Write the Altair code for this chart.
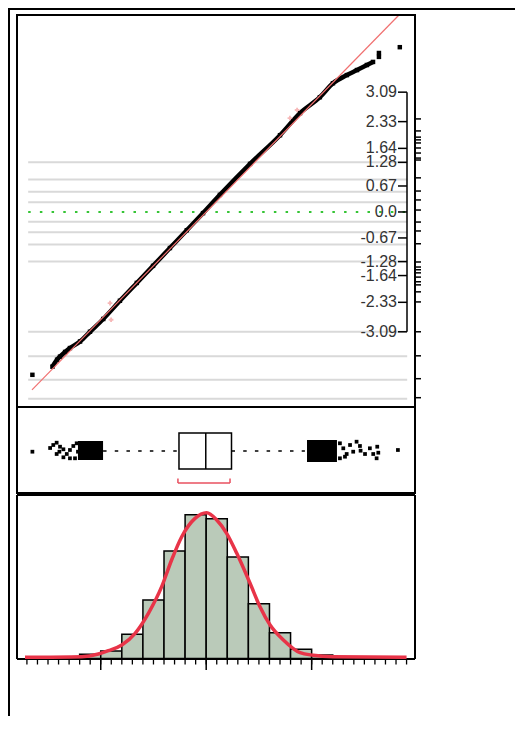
import altair as alt
import pandas as pd

# ---------------- data ----------------
# shared value axis (no tick labels in the reference)
x_domain = [-8.97, 9.90]

# normal quantile plot: sorted values and their normal quantiles
nq_value = [-8.24, -7.29, -7.07, -6.93, -6.69, -6.46, -5.98, -5.51, -4.88, -4.09,
            -3.29, -2.52, -1.72, -0.92, -0.15, 0.65, 2.08, 3.50, 4.45, 5.39,
            6.01, 6.67, 7.15, 7.62, 7.91, 8.19, 8.19, 9.18]
nq_quant = [-4.20, -3.99, -3.81, -3.73, -3.61, -3.51, -3.34, -3.09, -2.76, -2.29,
            -1.83, -1.39, -0.93, -0.47, -0.03, 0.44, 1.24, 1.98, 2.55, 2.96,
            3.32, 3.53, 3.66, 3.79, 3.87, 4.00, 4.10, 4.25]
fit_value = [-8.26, 9.14]
fit_quant = [-4.59, 5.08]
cross_value = [-4.56, -4.51, 3.97, 4.31]
cross_quant = [-2.35, -2.78, 2.42, 2.63]
grid_quant = [1.28, 0.84, 0.52, 0.25, -0.25, -0.52, -0.84, -1.28, -3.09, -3.72, -4.33, -4.82]
quant_tick_values = [3.09, 2.33, 1.64, 1.28, 0.67, 0.0, -0.67, -1.28, -1.64, -2.33, -3.09]
quant_tick_labels = ["3.09", "2.33", "1.64", "1.28", "0.67", "0.0", "-0.67", "-1.28", "-1.64", "-2.33", "-3.09"]
prob_ticks = [2.40, 2.09, 1.93, 1.86, 1.78, 1.65, 1.52, 1.39, 1.34, 0.88, 0.54, 0.31, 0.05,
              -0.26, -0.49, -0.82, -1.29, -1.42, -1.49, -1.57, -1.68, -1.80, -1.88, -2.06,
              -2.32, -3.09, -3.71, -4.30, -4.79]

# outlier box plot
box_q1, box_median, box_q3 = -1.29, -0.02, 1.20
whisker_lo, whisker_hi = -4.89, 4.68
shortest_half = [-1.34, 1.13]
out_value = [-8.24, 9.09,
             -7.40, -7.25, -7.09, -6.93, -6.77, -6.96, -7.09, -6.77, -6.61, -6.46, -6.30, -6.14, -6.22, -6.46, -6.08,
             6.34, 6.50, 6.66, 6.82, 6.97, 7.13, 7.29, 7.32, 7.53, 7.76, 7.92, 8.11, 8.16, 8.08, 6.34, 6.58]
out_jitter = [0.7, -1,
              -3, -6, -8.3, -4.3, -1.7, 0.7, 3, 6.3, 3, -1, -5, -7.7, 7.3, 7.3, 0.7,
              -7.7, -2.7, 3, -6, 0.7, -9.3, -5, -0.3, 3, -2.7, 3, -4.3, 1.7, 7.3, 7.3, 5.7]
dense_lo = [-6.08, 4.78]
dense_hi = [-4.89, 6.20]
dense_j0 = [-10, -11]
dense_j1 = [9, 11]

# histogram (density per unit bin)
bin_lo = [-6, -5, -4, -3, -2, -1, 0, 1, 2, 3, 4, 5]
bin_hi = [-5, -4, -3, -2, -1, 0, 1, 2, 3, 4, 5, 6]
bin_density = [0.0064, 0.0114, 0.0367, 0.0888, 0.163, 0.218, 0.212, 0.154, 0.083, 0.039, 0.014, 0.0053]
curve_x = [-8.59, -5.90, -5.11, -4.64, -4.00, -3.37, -2.74, -2.11, -1.64, -1.16, -0.53, 0.02,
           0.50, 0.97, 1.45, 2.08, 2.55, 3.03, 3.66, 4.45, 5.08, 6.02, 9.50]
curve_y = [0.0018, 0.0027, 0.0068, 0.0118, 0.0205, 0.0382, 0.0686, 0.1090, 0.1495, 0.1848, 0.2127, 0.2212,
           0.2102, 0.1900, 0.1596, 0.1141, 0.0786, 0.0508, 0.0281, 0.0088, 0.0049, 0.0027, 0.0018]
minor_ticks = [-8.5, -8.0, -7.5, -7.0, -6.5, -6.0, -5.5, -5.0, -4.5, -4.0, -3.5, -3.0, -2.5, -2.0,
               -1.5, -1.0, -0.5, 0.0, 0.5, 1.0, 1.5, 2.0, 2.5, 3.0, 3.5, 4.0, 4.5, 5.0, 5.5, 6.0,
               6.5, 7.0, 7.5, 8.0, 8.5, 9.0, 9.5]
major_ticks = [-5, 0, 5]

# ---------------- scales ----------------
xs = alt.Scale(domain=x_domain, range=[9, 407], nice=False, zero=False)
qs = alt.Scale(domain=[-5.03, 5.08], range=[399, 7], nice=False, zero=False)
bs = alt.Scale(domain=[-44, 43], range=[399, 486], nice=False, zero=False)
hs = alt.Scale(domain=[0, 0.2481], range=[650.5, 487], nice=False, zero=False)

def X(f):
    return alt.X(f, type="quantitative", scale=xs, axis=None)

def Yq(f):
    return alt.Y(f, type="quantitative", scale=qs, axis=None)

def Yb(f):
    return alt.Y(f, type="quantitative", scale=bs, axis=None)

def Yh(f):
    return alt.Y(f, type="quantitative", scale=hs, axis=None)

one = pd.DataFrame({"a": [0]})
layers = []

# ---- quantile panel ----
grid_df = pd.DataFrame({"q": grid_quant, "x": [-8.44] * len(grid_quant), "x2": [9.53] * len(grid_quant)})
layers.append(alt.Chart(grid_df).mark_rule(color="#d9d9d9", strokeWidth=2).encode(
    x=X("x"), x2="x2", y=Yq("q")))
zero_df = pd.DataFrame({"q": [0.0], "x": [-8.44], "x2": [9.53]})
layers.append(alt.Chart(zero_df).mark_rule(color="#35c435", strokeWidth=2, strokeDash=[2.5, 9.2]).encode(
    x=X("x"), x2="x2", y=Yq("q")))

pts = pd.DataFrame({"x": nq_value, "q": nq_quant, "i": list(range(len(nq_value)))})
line_df = pts.iloc[1:25]
layers.append(alt.Chart(line_df).mark_line(color="black", strokeWidth=4.5, interpolate="monotone").encode(
    x=X("x"), y=Yq("q"), order="i:Q"))
layers.append(alt.Chart(pts).mark_square(color="black", size=20, opacity=1).encode(
    x=X("x"), y=Yq("q")))
fit_df = pd.DataFrame({"x": fit_value, "q": fit_quant})
layers.append(alt.Chart(fit_df).mark_line(color="#f07070", strokeWidth=1.2).encode(
    x=X("x"), y=Yq("q")))
cross_df = pd.DataFrame({"x": cross_value, "q": cross_quant})
layers.append(alt.Chart(cross_df).mark_point(shape="cross", color="#f29a9a", size=22, filled=True).encode(
    x=X("x"), y=Yq("q")))

# inner quantile axis
qaxis_df = pd.DataFrame({"q": [quant_tick_values[0]], "q2": [quant_tick_values[-1]]})
layers.append(alt.Chart(qaxis_df).mark_rule(color="black", strokeWidth=1.5).encode(
    x=alt.value(399), y=Yq("q"), y2="q2"))
qt_df = pd.DataFrame({"q": quant_tick_values, "label": quant_tick_labels})
layers.append(alt.Chart(qt_df).mark_rule(color="black", strokeWidth=1.5).encode(
    x=alt.value(390), x2=alt.value(399), y=Yq("q")))
layers.append(alt.Chart(qt_df).mark_text(align="right", baseline="middle", fontSize=16,
                                          font="Liberation Sans", color="#333333").encode(
    x=alt.value(389), y=Yq("q"), text="label:N"))
pt_df = pd.DataFrame({"q": prob_ticks})
layers.append(alt.Chart(pt_df).mark_rule(color="black", strokeWidth=1.5).encode(
    x=alt.value(407), x2=alt.value(413), y=Yq("q")))

# ---- box plot panel ----
wh_df = pd.DataFrame({"x": [whisker_lo, box_q3], "x2": [box_q1, whisker_hi], "j": [0, 0]})
layers.append(alt.Chart(wh_df).mark_rule(color="black", strokeWidth=1.5, strokeDash=[3.5, 8.2]).encode(
    x=X("x"), x2="x2", y=Yb("j")))
dense_df = pd.DataFrame({"x": dense_lo, "x2": dense_hi, "j": dense_j0, "j2": dense_j1})
layers.append(alt.Chart(dense_df).mark_rect(color="black").encode(
    x=X("x"), x2="x2", y=Yb("j"), y2="j2"))
out_df = pd.DataFrame({"x": out_value, "j": out_jitter})
layers.append(alt.Chart(out_df).mark_square(color="black", size=14, opacity=1).encode(
    x=X("x"), y=Yb("j")))
box_df = pd.DataFrame({"x": [box_q1], "x2": [box_q3], "j": [-18], "j2": [18]})
layers.append(alt.Chart(box_df).mark_rect(fill="white", stroke="black", strokeWidth=1.5).encode(
    x=X("x"), x2="x2", y=Yb("j"), y2="j2"))
med_df = pd.DataFrame({"x": [box_median], "j": [-18], "j2": [18]})
layers.append(alt.Chart(med_df).mark_rule(color="black", strokeWidth=1.5).encode(
    x=X("x"), y=Yb("j"), y2="j2"))
sh_df = pd.DataFrame({"x": [shortest_half[0]], "x2": [shortest_half[1]], "j": [32]})
layers.append(alt.Chart(sh_df).mark_rule(color="#e8505f", strokeWidth=1.5).encode(
    x=X("x"), x2="x2", y=Yb("j")))
she_df = pd.DataFrame({"x": shortest_half, "j": [27.5, 27.5], "j2": [32, 32]})
layers.append(alt.Chart(she_df).mark_rule(color="#e8505f", strokeWidth=1.5).encode(
    x=X("x"), y=Yb("j"), y2="j2"))

# ---- histogram panel ----
bars_df = pd.DataFrame({"lo": bin_lo, "hi": bin_hi, "d": bin_density, "base": [0] * len(bin_lo)})
layers.append(alt.Chart(bars_df).mark_rect(fill="#bacab9", stroke="black", strokeWidth=1.5).encode(
    x=X("lo"), x2="hi", y=Yh("base"), y2="d"))
mt_df = pd.DataFrame({"x": minor_ticks})
layers.append(alt.Chart(mt_df).mark_rule(color="black", strokeWidth=1.3).encode(
    x=X("x"), y=alt.value(651), y2=alt.value(656.5)))
Mt_df = pd.DataFrame({"x": major_ticks})
layers.append(alt.Chart(Mt_df).mark_rule(color="black", strokeWidth=1.5).encode(
    x=X("x"), y=alt.value(651), y2=alt.value(662)))
layers.append(alt.Chart(one).mark_rule(color="black", strokeWidth=1.8).encode(
    x=alt.value(9), x2=alt.value(407), y=alt.value(651)))
curve_df = pd.DataFrame({"x": curve_x, "d": curve_y})
layers.append(alt.Chart(curve_df).mark_line(color="#e83448", strokeWidth=3.5, interpolate="monotone").encode(
    x=X("x"), y=Yh("d")))

# ---- panel frames ----
layers.append(alt.Chart(one).mark_rect(fillOpacity=0, stroke="black", strokeWidth=2).encode(
    x=alt.value(9), x2=alt.value(407), y=alt.value(7), y2=alt.value(399)))
layers.append(alt.Chart(one).mark_rect(fillOpacity=0, stroke="black", strokeWidth=2).encode(
    x=alt.value(9), x2=alt.value(407), y=alt.value(399), y2=alt.value(485)))
layers.append(alt.Chart(one).mark_rule(color="black", strokeWidth=2).encode(
    x=alt.value(9), x2=alt.value(407), y=alt.value(487)))
layers.append(alt.Chart(one).mark_rule(color="black", strokeWidth=2).encode(
    x=alt.value(9), y=alt.value(487), y2=alt.value(651)))
layers.append(alt.Chart(one).mark_rule(color="black", strokeWidth=2).encode(
    x=alt.value(407), y=alt.value(487), y2=alt.value(651)))
# outer frame
layers.append(alt.Chart(one).mark_rule(color="black", strokeWidth=2).encode(
    x=alt.value(1), y=alt.value(0), y2=alt.value(708)))
layers.append(alt.Chart(one).mark_rule(color="black", strokeWidth=2).encode(
    x=alt.value(0), x2=alt.value(507), y=alt.value(1)))

chart = alt.layer(*layers).resolve_scale(y="independent").properties(
    width=507, height=708, padding=0, background="white",
    autosize=alt.AutoSizeParams(type="none"),
).configure_view(stroke=None)

chart.save("out.html", embed_options={"renderer": "svg", "actions": False})
